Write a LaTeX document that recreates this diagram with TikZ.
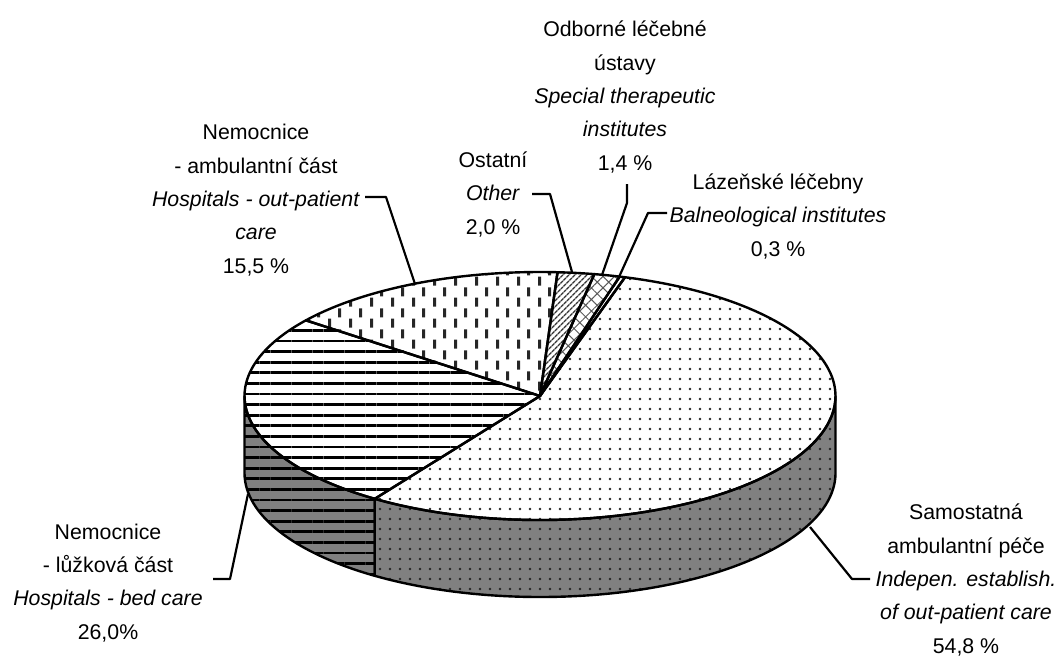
\documentclass[tikz,border=0pt]{standalone}
\usepackage{fontspec}
\setmainfont{Liberation Sans}
\usetikzlibrary{patterns,patterns.meta}

\pgfdeclarepatternformonly{vdash}{\pgfqpoint{-1.6pt}{0pt}}{\pgfqpoint{19pt}{20.6pt}}{\pgfqpoint{20.6pt}{20.6pt}}{%
  \pgfsetlinewidth{3pt}%
  \pgfpathmoveto{\pgfqpoint{0pt}{0.5pt}}\pgfpathlineto{\pgfqpoint{0pt}{9.5pt}}%
  \pgfpathmoveto{\pgfqpoint{10.3pt}{10.8pt}}\pgfpathlineto{\pgfqpoint{10.3pt}{19.8pt}}%
  \pgfusepath{stroke}}

\tikzset{
  lbl/.style={align=center, font=\fontsize{21.3pt}{33.3pt}\selectfont, inner sep=0pt, anchor=base},
  leader/.style={draw=black, line width=2.2pt, line join=round},
  outline/.style={draw=black, line width=2.4pt, line join=round},
  sidefill/.style={preaction={fill=black!50}},
  pDots/.style={pattern={Dots[distance=10pt,radius=1.35pt]}, pattern color=black!85},
  pHLines/.style={pattern={Lines[angle=0,distance=10.6pt,line width=2.7pt]}, pattern color=black},
  pVDash/.style={pattern=vdash, pattern color=black!85},
  pDiag/.style={pattern={Lines[angle=45,distance=4pt,line width=1.5pt]}, pattern color=black!80},
  pCross/.style={pattern={Hatch[angle=45,distance=8.2pt,line width=1pt]}, pattern color=black!65},
}

\newcommand\rxx{295.5}
\newcommand\ryy{124}
\newcommand\topslice[3]{%
  \path[#3] (0,0) -- (#1:\rxx pt and \ryy pt)
    arc[start angle=#1, end angle=#2, x radius=\rxx pt, y radius=\ryy pt] -- cycle;}
\newcommand\sideslice[3]{%
  \path[#3] (#1:\rxx pt and \ryy pt)
    arc[start angle=#1, end angle=#2, x radius=\rxx pt, y radius=\ryy pt] -- ++(0,-77)
    arc[start angle=#2, end angle=#1, x radius=\rxx pt, y radius=\ryy pt] -- cycle;}

\begin{document}
\begin{tikzpicture}[x=1pt,y=-1pt]
\useasboundingbox (0,0) rectangle (1058,659);

\begin{scope}[shift={(540,396)}, y={(0pt,1pt)}]
  % front sides
  \sideslice{180}{236}{sidefill, pHLines}
  \sideslice{236}{360}{sidefill, pDots}
  \sideslice{180}{236}{outline}
  \sideslice{236}{360}{outline}
  % top slices
  \topslice{236}{433.28}{pDots}
  \topslice{73.28}{74.36}{fill=white}
  \topslice{74.36}{79.40}{pCross}
  \topslice{79.40}{86.60}{pDiag}
  \topslice{86.60}{142.40}{pVDash}
  \topslice{142.40}{236}{pHLines}
  \topslice{236}{433.28}{outline}
  \topslice{73.28}{74.36}{outline}
  \topslice{74.36}{79.40}{outline}
  \topslice{79.40}{86.60}{outline}
  \topslice{86.60}{142.40}{outline}
  \topslice{142.40}{236}{outline}
\end{scope}

% labels (base anchor = baseline of the last line)
\node[lbl] (lOut) at (256,273) {Nemocnice\\- ambulantní část\\\textit{Hospitals - out-patient}\\\textit{care}\\15,5 \%};
\node[lbl] (lSpec) at (625,170) {Odborné léčebné\\ústavy\\\textit{Special therapeutic}\\\textit{institutes}\\1,4 \%};
\node[lbl] (lOther) at (493,234) {Ostatní\\\textit{Other}\\2,0 \%};
\node[lbl] (lBal) at (778,256) {Lázeňské léčebny\\\textit{Balneological institutes}\\0,3 \%};
\node[lbl] (lBed) at (108,639) {Nemocnice\\- lůžková část\\\textit{Hospitals - bed care}\\26,0\%};
\node[lbl] (lSam) at (966,653) {Samostatná\\ambulantní péče\\\textit{Indepen. establish.}\\\textit{of out-patient care}\\54,8 \%};

% leader anchors
\coordinate (sOut) at (365,197);  \coordinate (pOut) at (415,284);
\coordinate (sOther) at (532,194); \coordinate (pOther) at (572,272);
\coordinate (sSpec) at (627,184); \coordinate (pSpec) at (602,275);
\coordinate (sBal) at (667,213);  \coordinate (pBal) at (619,277);
\coordinate (sBed) at (213,579);  \coordinate (pBed) at (248,494);
\coordinate (sSam) at (870,579);  \coordinate (pSam) at (810,527);

\draw[leader] (sOut) -- ++(21,0) -- (pOut);
\draw[leader] (sOther) -- ++(18,0) -- (pOther);
\draw[leader] (sSpec) -- ++(0,19) -- (pSpec);
\draw[leader] (sBal) -- ++(-19,0) -- (pBal);
\draw[leader] (sBed) -- ++(17,0) -- (pBed);
\draw[leader] (sSam) -- ++(-18,0) -- (pSam);
\end{tikzpicture}
\end{document}
